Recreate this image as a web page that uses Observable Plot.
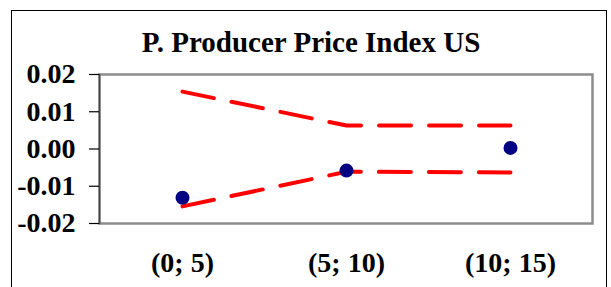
<!DOCTYPE html>
<html>
<head>
<meta charset="utf-8">
<script src="https://cdn.jsdelivr.net/npm/d3@7"></script>
<script src="https://cdn.jsdelivr.net/npm/@observablehq/plot@0.6"></script>
<style>
  html, body { margin: 0; padding: 0; background: #fff; }
  #wrap { position: relative; width: 611px; height: 287px; overflow: hidden; }
  #border { position: absolute; left: 11px; top: 10px; width: 596px; height: 300px; border: 1.5px solid #000; box-sizing: border-box; }
  #chart { position: absolute; left: 0; top: 0; }
</style>
</head>
<body>
<div id="wrap"><div id="border"></div><div id="chart"></div></div>
<script>
const title = "P. Producer Price Index US";
const categories = ["(0; 5)", "(5; 10)", "(10; 15)"];
const estimate = [-0.0131, -0.0058, 0.0003];
const upperBand = [0.0154, 0.0063, 0.0063];
const lowerBand = [-0.0154, -0.0061, -0.0063];
const yTicks = [-0.02, -0.01, 0.00, 0.01, 0.02];

const pts = categories.map((c, i) => ({c, v: estimate[i]}));
const up = categories.map((c, i) => ({c, v: upperBand[i]}));
const lo = categories.map((c, i) => ({c, v: lowerBand[i]}));

const font = "'Liberation Serif', 'Times New Roman', serif";

const chart = Plot.plot({
  width: 611,
  height: 287,
  marginLeft: 99,
  marginRight: 19,
  marginTop: 74,
  marginBottom: 64,
  style: { fontFamily: font, fontSize: "28px", fontWeight: "bold", color: "#000", background: "transparent", overflow: "visible" },
  x: { type: "band", domain: categories, padding: 0 },
  y: { domain: [-0.02, 0.02] },
  marks: [
    Plot.frame({ stroke: "#8c8c8c", strokeWidth: 2.5 }),
    Plot.frame({ anchor: "left", stroke: "#444", strokeWidth: 1.5 }),
    Plot.axisY({ ticks: yTicks, tickFormat: d => d.toFixed(2), tickSize: 10, tickPadding: 14, stroke: "#000", strokeWidth: 1.2, label: null, fontSize: 28, fontWeight: "bold", fill: "#000" }),
    Plot.axisX({ tickSize: 0, tickPadding: 29, label: null, fontSize: 28, fontWeight: "bold", fill: "#000" }),
    Plot.line(up, { x: "c", y: "v", stroke: "#ff0000", strokeWidth: 4, strokeDasharray: "32,18" }),
    Plot.line(lo, { x: "c", y: "v", stroke: "#ff0000", strokeWidth: 4, strokeDasharray: "32,18" }),
    Plot.dot(pts, { x: "c", y: "v", r: 7, fill: "#000080", stroke: "none" }),
    Plot.text([title], { frameAnchor: "top", lineAnchor: "top", dx: -35, dy: -43, fontSize: 29, fontWeight: "bold", fill: "#000" })
  ]
});
document.getElementById("chart").appendChild(chart);
</script>
</body>
</html>
